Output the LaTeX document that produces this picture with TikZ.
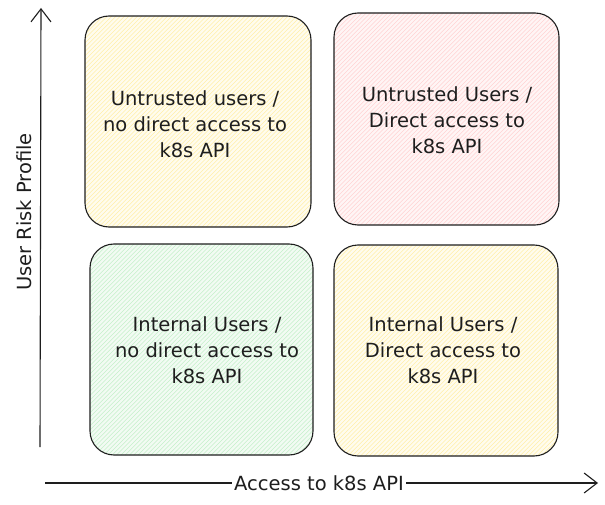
\documentclass[tikz,border=0pt]{standalone}
\usepackage{fontspec}
\setmainfont{DejaVu Sans}
\usetikzlibrary{arrows.meta}
\definecolor{ylfill}{HTML}{FFFCEE}
\definecolor{ylhatch}{HTML}{FFEFA8}
\definecolor{pkfill}{HTML}{FFF5F5}
\definecolor{pkhatch}{HTML}{FFD2D2}
\definecolor{grfill}{HTML}{F2FBF3}
\definecolor{grhatch}{HTML}{C4F0CA}
\definecolor{inkc}{HTML}{1E1E1E}
\tikzset{
  quadline/.style={draw=inkc,line width=1.1pt,rounded corners=24pt},
  hatchline/.style={line width=0.55pt},
  qtext/.style={font=\fontsize{19.5}{26}\selectfont,text=inkc,align=center},
  axis/.style={draw=inkc,line width=1.1pt,-{Straight Barb[length=13pt,width=20pt,line width=1.1pt]}},
  axlabel/.style={font=\fontsize{19.5}{22}\selectfont,text=inkc,inner sep=2pt}
}
% #1 colour prefix, #2 #3 top-left, #4 #5 bottom-right
\newcommand\quadbox[5]{%
  \begin{scope}
    \clip[rounded corners=24pt] (#2,#3) rectangle (#4,#5);
    \fill[#1fill] (#2,#3) rectangle (#4,#5);
    \foreach \d in {-240,-235.7,...,240}
      \draw[hatchline,#1hatch] (#2+\d,#5) -- ++(240,-240);
  \end{scope}
  \path[quadline] (#2,#3) rectangle (#4,#5);
}
\begin{document}
\begin{tikzpicture}[x=1pt,y=-1pt]
\useasboundingbox (0,0) rectangle (605,505);
% quadrants
\quadbox{yl}{85}{16}{311}{227}
\quadbox{pk}{334}{13}{559}{225}
\quadbox{gr}{90}{244}{313}{455}
\quadbox{yl}{334}{245}{558}{456}
\node[qtext] (tl) at (195,124) {Untrusted users /\\no direct access to\\k8s API};
\node[qtext] (tr) at (447,120) {Untrusted Users /\\Direct access to\\k8s API};
\node[qtext] (bl) at (207,350) {Internal Users /\\no direct access to\\k8s API};
\node[qtext] (br) at (443,350) {Internal Users /\\Direct access to\\k8s API};
% axes
\coordinate (yb) at (40,447);
\coordinate (yt) at (41,8);
\draw[axis] (yb) -- (yt);
\coordinate (xl) at (45,483);
\coordinate (xr) at (598,483);
\draw[axis] (xl) -- (xr);
\node[axlabel,fill=white] (xlab) at (319,483) {Access to k8s API};
\node[axlabel,rotate=90] (ylab) at (24,212) {User Risk Profile};
\end{tikzpicture}
\end{document}
